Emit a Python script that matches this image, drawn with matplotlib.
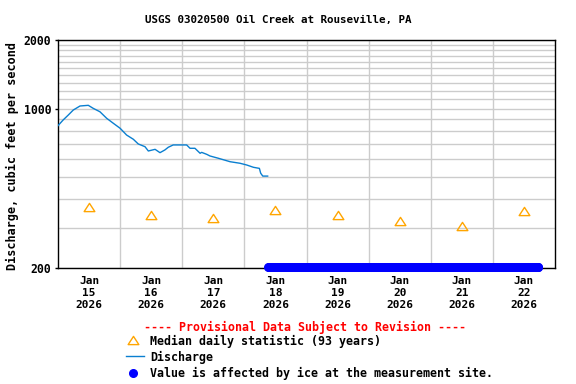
import matplotlib
matplotlib.use("Agg")
import matplotlib.pyplot as plt
from matplotlib.lines import Line2D
from matplotlib.path import Path
import pandas as pd

# ---------------- data ----------------
start = pd.Timestamp("2026-01-15 00:00")
end = pd.Timestamp("2026-01-23 00:00")

# discharge (hours since Jan 15 00:00, cfs)
q_hours = [0.0, 2.0, 4.0, 5.9, 8.5, 11.7, 13.6, 16.2, 18.8, 21.4, 24.0, 26.5,
           29.1, 31.0, 33.6, 34.9, 37.5, 39.4, 41.3, 42.6, 44.5, 49.7, 51.0,
           52.9, 54.9, 55.5, 57.5, 58.7, 61.9, 66.5, 70.3, 72.9, 75.5, 77.8,
           78.3, 79.1, 81.0]
q_values = [842, 892, 938, 986, 1027, 1034, 1003, 969, 907, 862, 820, 766,
            734, 700, 681, 652, 663, 641, 659, 677, 693, 693, 670,
            670, 637, 643, 630, 620, 606, 585, 576, 566, 553, 547,
            521, 506, 506]

# median daily statistic (noon of each day)
median_days = ["2026-01-15", "2026-01-16", "2026-01-17", "2026-01-18",
               "2026-01-19", "2026-01-20", "2026-01-21", "2026-01-22"]
median_values = [372, 342, 333, 361, 343, 320, 305, 354]

# ice-affected period
ice_start = "2026-01-18 09:15"
ice_end = "2026-01-22 17:30"
ice_level = 203

y_major = [200, 1000, 2000]
y_grid = [v for v in range(300, 2000, 100)]

# ---------------- plot ----------------
FONT = "DejaVu Sans Mono"
fig = plt.figure(figsize=(5.76, 3.84), dpi=100)
ax = fig.add_axes([58/576, 1-268/384, (555-58)/576, (268-40)/384])

q_times = [start + pd.Timedelta(hours=h) for h in q_hours]
ax.plot(q_times, q_values, color="#0a7fd0", lw=1.0, zorder=3)

tri = Path([(0, 1), (-1.3, -1), (1.3, -1), (0, 1)], closed=True)
m_times = [pd.Timestamp(d) + pd.Timedelta(hours=12) for d in median_days]
ax.plot(m_times, median_values, linestyle="none", marker=tri, markersize=7.7,
        markerfacecolor="none", markeredgecolor="#FFA500", markeredgewidth=1.0, zorder=3)

ice_times = pd.date_range(ice_start, ice_end, freq="15min")
ax.plot(ice_times, [ice_level]*len(ice_times), linestyle="none", marker="o",
        markersize=5.5, color="#0000FF", clip_on=False, zorder=4)

ax.set_yscale("log")
ax.set_ylim(200, 2000)
ax.set_xlim(start, end)

ax.set_yticks(y_major)
ax.set_yticklabels([str(v) for v in y_major])
ax.set_yticks(y_grid, minor=True)
ax.yaxis.set_minor_formatter(matplotlib.ticker.NullFormatter())
ax.tick_params(axis="y", which="major", length=2, width=1, pad=3, labelsize=8.3)
ax.tick_params(axis="y", which="minor", length=0)

days = pd.date_range(start, end, freq="D")
noons = [d + pd.Timedelta(hours=12) for d in days[:-1]]
ax.set_xticks(noons)
ax.set_xticklabels([f"{d.strftime('%b')}\n{d.day}\n{d.year}" for d in noons])
ax.set_xticks(list(days[1:-1]), minor=True)
ax.tick_params(axis="x", which="both", length=0, pad=6, labelsize=8.0)

for lab in ax.get_xticklabels() + ax.get_yticklabels():
    lab.set_fontfamily(FONT)
    lab.set_fontweight("bold")
for lab in ax.get_xticklabels():
    lab.set_linespacing(1.25)

ax.grid(True, which="minor", color="#cccccc", lw=1.0)
ax.grid(True, which="major", axis="y", color="#cccccc", lw=1.0)
for s in ax.spines.values():
    s.set_linewidth(1.0)
    s.set_color("black")

ax.set_ylabel("Discharge, cubic feet per second", fontfamily=FONT,
              fontweight="bold", fontsize=8.5)
ax.yaxis.set_label_coords(-0.079, 0.49)

fig.text(278/576, 1-20/384, "USGS 03020500 Oil Creek at Rouseville, PA",
         ha="center", va="center", fontfamily=FONT, fontweight="bold", fontsize=7.8)

# legend block
fig.text(305/576, 1-327/384, "---- Provisional Data Subject to Revision ----",
         ha="center", va="center", color="red", fontfamily=FONT,
         fontweight="bold", fontsize=8.4)
fig.add_artist(Line2D([133/576], [1-340/384], marker=tri, markersize=7.7,
                      markerfacecolor="none", markeredgecolor="#FFA500",
                      markeredgewidth=1.0, linestyle="none"))
fig.text(150/576, 1-341/384, "Median daily statistic (93 years)", ha="left",
         va="center", fontfamily=FONT, fontweight="bold", fontsize=8.4)
fig.add_artist(Line2D([126/576, 144/576], [1-356/384, 1-356/384],
                      color="#0a7fd0", lw=1.0))
fig.text(150/576, 1-357/384, "Discharge", ha="left", va="center",
         fontfamily=FONT, fontweight="bold", fontsize=8.4)
fig.add_artist(Line2D([133/576], [1-373/384], marker="o", markersize=5.5,
                      color="#0000FF", linestyle="none"))
fig.text(150/576, 1-373/384, "Value is affected by ice at the measurement site.",
         ha="left", va="center", fontfamily=FONT, fontweight="bold", fontsize=8.4)

fig.savefig("out.png", dpi=100)
